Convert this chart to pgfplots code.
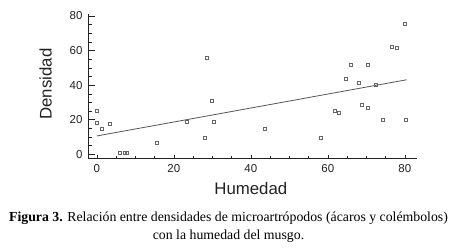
\documentclass[border=0pt]{standalone}
\usepackage{pgfplots}
\pgfplotsset{compat=1.18}
\usepackage{fontspec}
\setmainfont{Liberation Sans}
\newfontfamily\capfont{Liberation Serif}
\definecolor{tk}{HTML}{222222}
\definecolor{mk}{HTML}{666666}
\definecolor{ln}{HTML}{555555}
\begin{document}
\begin{tikzpicture}
\path[use as bounding box] (0,0) rectangle (449bp,249bp);
\begin{axis}[
  at={(88.3bp,90.7bp)}, anchor=south west,
  scale only axis, width=328.4bp, height=144.3bp,
  xmin=-2.2, xmax=83.1, ymin=-2.3, ymax=81.1,
  axis x line*=bottom, axis y line*=left,
  axis line style={-, color=tk, line width=0.6bp},
  xtick={0,20,40,60,80}, ytick={0,20,40,60,80},
  minor tick num=3,
  tick align=inside,
  major tick length=6.5bp, minor tick length=3.3bp,
  xtick style={color=tk, line width=0.5bp, /pgfplots/major tick length=3.5bp, /pgfplots/minor tick length=2.5bp},
  ytick style={color=tk, line width=0.5bp},
  /pgf/number format/assume math mode=true,
  tick label style={font=\fontsize{11.5bp}{13bp}\selectfont, color=tk},
  yticklabel style={xshift=-2.3bp},
  xticklabel style={yshift=-2.5bp},
  xlabel={Humedad}, ylabel={Densidad},
  label style={font=\fontsize{16.8bp}{19bp}\selectfont, color=tk},
  xlabel style={at={(rel axis cs:0.495,-0.254)}, anchor=base},
  ylabel style={at={(rel axis cs:-0.130,0.515)}, anchor=center, rotate=0},
  clip=false,
]
\addplot[only marks, mark=square, mark size=1.5bp, mark options={color=mk, line width=0.6bp}]
coordinates {
(0.0,25.0) (0.1,18.5) (1.4,15.0) (3.4,17.5) (5.9,0.8) (7.3,0.8) (7.8,0.8)
(15.7,6.7) (23.5,18.7) (28.5,56.0) (28.0,9.6) (29.9,31.2) (30.5,18.7)
(43.6,15.0) (58.1,9.6) (61.8,25.0) (62.9,24.0) (64.7,43.5) (66.1,51.8)
(68.1,41.4) (68.8,28.9) (70.3,51.8) (70.4,26.8) (72.5,39.9) (74.2,20.0)
(76.5,62.2) (78.0,61.3) (79.9,75.7) (80.3,20.0)
};
\addplot[color=ln, line width=0.8bp] coordinates {(0,10.6) (80.5,43.1)};
\end{axis}
\node[anchor=base, font=\capfont\fontsize{13.8bp}{16bp}\selectfont] at (228.5bp,28bp)
  {\textbf{Figura 3.} Relación entre densidades de microartrópodos (ácaros y colémbolos)};
\node[anchor=base, font=\capfont\fontsize{13.8bp}{16bp}\selectfont] at (228.5bp,9.5bp)
  {con la humedad del musgo.};
\end{tikzpicture}
\end{document}
